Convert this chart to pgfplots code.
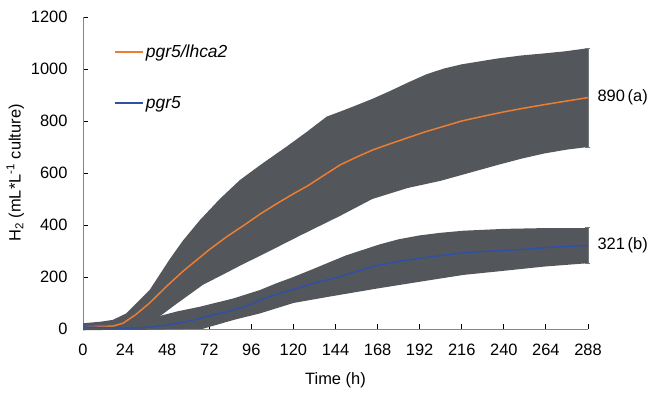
\documentclass[border=0pt]{standalone}
\usepackage{pgfplots}
\pgfplotsset{compat=1.18}
\usepackage{pgfplotstable}
\usepgfplotslibrary{fillbetween}
\usepackage{fontspec}
\setmainfont{Liberation Sans}
\definecolor{oline}{HTML}{ED7D31}
\definecolor{bline}{HTML}{3050A6}
\definecolor{band}{HTML}{53565A}
\definecolor{axgray}{HTML}{868686}

\pgfplotstableread{
t v
0 9
12 10
17 11
22.8 22
30 55
38 100
47.5 163
57 222
64.8 265
72 305
82 355
92 400
101 442
110 480
120 520
128 550
136 585
146.6 631
155 658
165 688
175 712
185 735
195 758
204 776
216 800
228 818
240 835
252 850
264 864
276 877
288 890
}\omean

\pgfplotstableread{
t v
0 22
10 28
17 35
24.7 60
38 150
49.6 270
57 340
66.7 419
78 500
89.5 573
102 635
116 701
128 760
139 817
146.6 836
155 858
165 885
175 915
186 950
196 980
206 1002
216 1018
236 1040
250 1052
263 1060
275 1068
288 1080
}\oup

\pgfplotstableread{
t v
0 -5
20 -3
30 0
36 10
42 40
54 100
68.4 170
80 210
90 245
105 295
124 360
146.6 435
165 500
185 542
204 570
220 600
236 630
250 655
263 675
276 690
288 700
}\olo

\pgfplotstableread{
t v
0 8
12 6
24 3
36 6
48 15
60 30
67 41
72 50
86 73
96 95
101 111
108 128
120 152
132 177
146.6 201
156 222
169 246
180 260
192 272
204 282
216 292
228 298
240 302
252 307
264 313
276 318
288 321
}\bmean

\pgfplotstableread{
t v
0 15
12 12
24 10
36 18
42 47
54 68
67 86
86 118
101 150
110 175
120 200
131 230
141 258
150 283
169 325
180 345
192 360
204 370
217 378
240 385
263 388
288 388
}\bup

\pgfplotstableread{
t v
0 -3
36 -3
68 0
86 35
101 60
120 100
141 125
169 157
198 188
217 208
236 221
263 240
288 253
}\blo

\begin{document}
\begin{tikzpicture}
\begin{axis}[
  scale only axis,
  width=505bp, height=312bp,
  xmin=0, xmax=288, ymin=0, ymax=1200,
  xtick={0,24,...,288}, ytick={0,200,...,1200},
  axis lines=left,
  axis line style={draw=axgray, line width=0.9bp, -},
  tick style={black, line width=0.9bp},
  tick align=inside,
  major tick length=5bp,
  clip=false,
  font=\fontsize{16.5}{19}\selectfont,
  /pgf/number format/assume math mode=true,
  /pgf/number format/1000 sep={},
  xticklabel style={yshift=-12bp},
  yticklabel style={xshift=-12bp},
  xlabel={Time (h)},
  ylabel={H\textsubscript{2} (mL*L\textsuperscript{-1} culture)},
  xlabel style={yshift=-10bp},
  ylabel style={yshift=0bp},
  legend style={at={(rel axis cs:0.055,0.925)}, anchor=north west, draw=none, fill=none,
    row sep=34bp, font=\fontsize{17.5}{20}\selectfont\itshape},
  legend cell align=left,
  legend image code/.code={\draw[#1, line width=2bp] (0bp,0bp) -- (28bp,0bp);},
]
\addplot[name path=ou, draw=none, forget plot] table[x=t,y=v] {\oup};
\addplot[name path=ol, draw=none, forget plot] table[x=t,y=v] {\olo};
\addplot[band, draw=none, forget plot] fill between[of=ou and ol];
\addplot[name path=bu, draw=none, forget plot] table[x=t,y=v] {\bup};
\addplot[name path=bl, draw=none, forget plot] table[x=t,y=v] {\blo};
\addplot[band, draw=none, forget plot] fill between[of=bu and bl];
\addplot[draw=none, forget plot, mark=none,
  error bars/.cd, y dir=both, y explicit,
  error bar style={band!80!white, line width=0.9bp},
  error mark options={rotate=90, mark size=2.5bp, band!80!white, line width=0.9bp}]
  coordinates {(288,890) +- (0,190) (288,321) +- (0,68)};
\addplot[oline, line width=1.5bp] table[x=t,y=v] {\omean};
\addlegendentry{pgr5/lhca2}
\addplot[bline, line width=1.5bp] table[x=t,y=v] {\bmean};
\addlegendentry{pgr5}
\node[anchor=west, font=\fontsize{16.5}{19}\selectfont] at (axis cs:288,890) {\hspace{6bp}890\,(a)};
\node[anchor=west, font=\fontsize{16.5}{19}\selectfont] at (axis cs:288,321) {\hspace{6bp}321\,(b)};
\coordinate (BL) at (rel axis cs:-0.1644,-0.2051);
\coordinate (TR) at (rel axis cs:1.1248,1.0545);
\end{axis}
\pgfresetboundingbox
\path[use as bounding box] (BL) rectangle (TR);
\end{tikzpicture}
\end{document}
